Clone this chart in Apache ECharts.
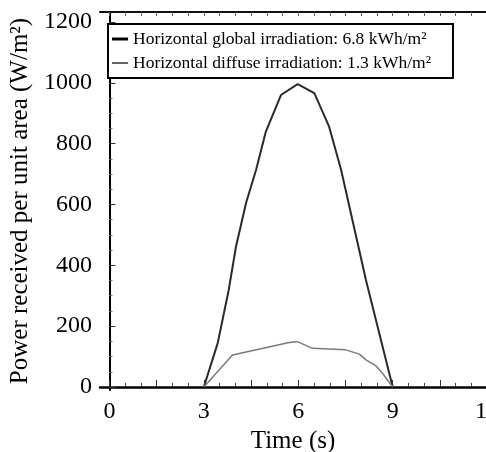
<!DOCTYPE html>
<html>
<head>
<meta charset="utf-8">
<script src="https://cdn.jsdelivr.net/npm/echarts@6/dist/echarts.min.js"></script>
<style>html,body{margin:0;padding:0;background:#fff}#c{width:486px;height:452px}</style>
</head>
<body>
<div id="c"></div>
<script>
const seriesNames = ['Horizontal global irradiation: 6.8 kWh/m²', 'Horizontal diffuse irradiation: 1.3 kWh/m²'];
const timeGlobal = [3, 3.44, 3.79, 4.02, 4.34, 4.66, 4.97, 5.45, 5.98, 6.51, 6.98, 7.36, 7.72, 8.15, 9];
const powerGlobal = [0, 144, 319, 461, 605, 714, 840, 960, 996, 966, 856, 714, 549, 352, 0];
const timeDiffuse = [3, 3.91, 5.71, 5.97, 6.45, 7.51, 7.94, 8.15, 8.47, 8.67, 9];
const powerDiffuse = [0, 105, 146, 149, 127, 122, 108, 89, 69, 46, 0];
const xLabelValues = [0, 3, 6, 9, 12];
const xMajorTicks = [0, 1.5, 3, 4.5, 6, 7.5, 9, 10.5, 12];
const xMinorTicks = [0.5, 1, 2, 2.5, 3.5, 4, 5, 5.5, 6.5, 7, 8, 8.5, 9.5, 10, 11, 11.5, 12.5];
const yLabelValues = [0, 200, 400, 600, 800, 1000, 1200];
const yMinorTicks = [50, 100, 150, 250, 300, 350, 450, 500, 550, 650, 700, 750, 850, 900, 950, 1050, 1100, 1150];

const FONT = 'Liberation Serif';
const X_MIN = -0.3, X_MAX = 12.6, Y_MIN = -10, Y_MAX = 1233;

const chart = echarts.init(document.getElementById('c'), null, {renderer: 'canvas'});
const xBase = {type: 'value', min: X_MIN, max: X_MAX, splitLine: {show: false}};
const yBase = {type: 'value', min: Y_MIN, max: Y_MAX, splitLine: {show: false}};
chart.setOption({
  animation: false,
  backgroundColor: '#fff',
  grid: {left: 100, top: 12, width: 406, height: 378, containLabel: false, outerBoundsMode: 'none'},
  legend: {
    orient: 'vertical',
    left: 108, top: 24,
    padding: [6, 22, 6, 4],
    itemGap: 6,
    itemWidth: 16, itemHeight: 14,
    symbolKeepAspect: true,
    borderColor: '#000', borderWidth: 2,
    backgroundColor: '#fff',
    textStyle: {fontFamily: FONT, fontSize: 17.5, color: '#000'},
    data: [
      {name: seriesNames[0], icon: 'path://M0,0h16v3h-16z', itemStyle: {color: '#000'}},
      {name: seriesNames[1], icon: 'path://M0,0h16v1.4h-16z', itemStyle: {color: '#222'}}
    ]
  },
  xAxis: [
    Object.assign({}, xBase, {
      position: 'bottom',
      name: 'Time (s)', nameLocation: 'middle', nameGap: 37,
      nameTextStyle: {fontFamily: FONT, fontSize: 25, color: '#000', padding: [0, 20, 0, 0]},
      axisLine: {show: true, lineStyle: {color: '#000', width: 2.5}},
      axisTick: {show: true, inside: true, length: 7, customValues: xMajorTicks, lineStyle: {color: '#333', width: 1}},
      axisLabel: {show: true, customValues: xLabelValues, margin: 10, fontFamily: FONT, fontSize: 24, color: '#000', formatter: v => String(v)}
    }),
    Object.assign({}, xBase, {
      position: 'bottom',
      axisLine: {show: false},
      axisTick: {show: true, inside: true, length: 4, customValues: xMinorTicks, lineStyle: {color: '#444', width: 1}},
      axisLabel: {show: false}
    }),
    Object.assign({}, xBase, {
      position: 'top',
      axisLine: {show: true, lineStyle: {color: '#111', width: 2}},
      axisTick: {show: true, inside: true, length: 4, customValues: xMajorTicks.concat(xMinorTicks), lineStyle: {color: '#666', width: 1}},
      axisLabel: {show: false}
    })
  ],
  yAxis: [
    Object.assign({}, yBase, {
      position: 'left',
      name: 'Power received per unit area (W/m²)', nameLocation: 'middle', nameGap: 54,
      nameTextStyle: {fontFamily: FONT, fontSize: 25, color: '#000'},
      axisLine: {show: true, lineStyle: {color: '#000', width: 2}},
      axisTick: {show: true, inside: true, length: 6, customValues: yLabelValues, lineStyle: {color: '#333', width: 1}},
      axisLabel: {show: true, customValues: yLabelValues, margin: 8, fontFamily: FONT, fontSize: 24, color: '#000', formatter: v => String(v)}
    }),
    Object.assign({}, yBase, {
      position: 'left',
      axisLine: {show: false},
      axisTick: {show: true, inside: true, length: 3, customValues: yMinorTicks, lineStyle: {color: '#666', width: 1}},
      axisLabel: {show: false}
    })
  ],
  series: [
    {
      name: seriesNames[0], type: 'line', xAxisIndex: 0, yAxisIndex: 0,
      symbol: 'none', smooth: false,
      lineStyle: {color: '#2a2a2a', width: 2},
      itemStyle: {color: '#2a2a2a'},
      data: timeGlobal.map((t, i) => [t, powerGlobal[i]])
    },
    {
      name: seriesNames[1], type: 'line', xAxisIndex: 0, yAxisIndex: 0,
      symbol: 'none', smooth: false,
      lineStyle: {color: '#7a7a7a', width: 1.5},
      itemStyle: {color: '#7a7a7a'},
      data: timeDiffuse.map((t, i) => [t, powerDiffuse[i]])
    }
  ]
});
</script>
</body>
</html>
